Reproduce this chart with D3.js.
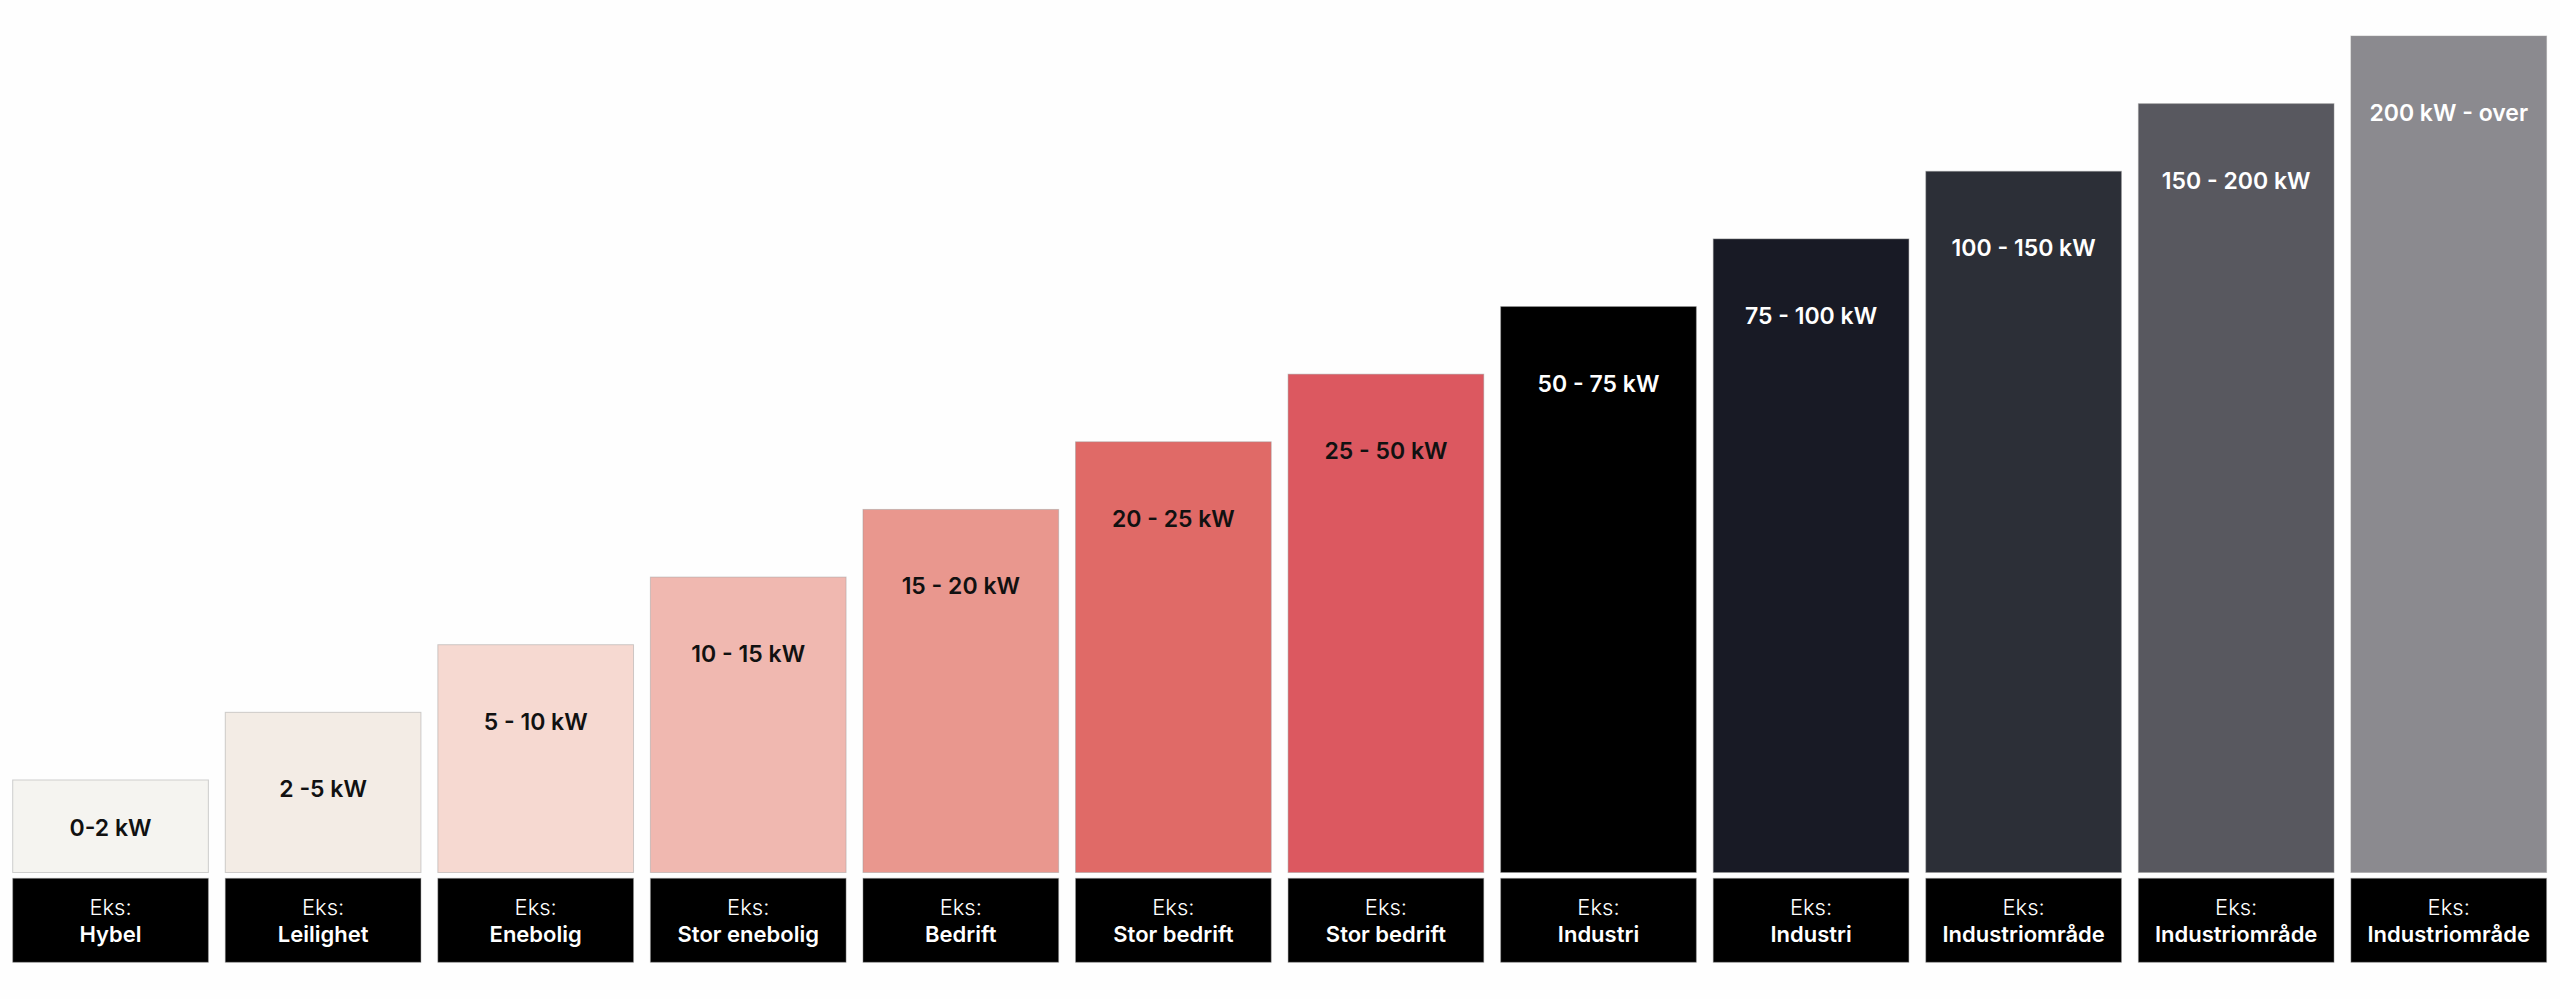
<!DOCTYPE html>
<html>
<head>
<meta charset="utf-8">
<script src="https://cdn.jsdelivr.net/npm/d3@7"></script>
<style>
    html, body { margin: 0; padding: 0; background: #fefefe; }
    svg { display: block; font-family: Inter, "Noto Sans", sans-serif; }
</style>
</head>
<body>
<div id="chart"></div>
<script>

// effect ranges (bar labels)
let ranges = ["0-2 kW", "2 -5 kW", "5 - 10 kW", "10 - 15 kW", "15 - 20 kW", "20 - 25 kW",
    "25 - 50 kW", "50 - 75 kW", "75 - 100 kW", "100 - 150 kW", "150 - 200 kW", "200 kW - over"];

// example use for each range
let examples = ["Hybel", "Leilighet", "Enebolig", "Stor enebolig", "Bedrift", "Stor bedrift",
    "Stor bedrift", "Industri", "Industri", "Industriområde", "Industriområde", "Industriområde"];

// step level of each bar (staircase)
let levels = [1, 2, 3, 4, 5, 6, 7, 8, 9, 10, 11, 12];

let colors = ["#f5f4f0", "#f3ece5", "#f6d9d1", "#f0b8b0", "#e9978e", "#e06a67",
    "#dc5860", "#000000", "#181a25", "#2c2f37", "#58585f", "#8b8a8f"];

let margin = {top: 0, right: 0, bottom: 0, left: 0};
let width = 2560, height = 999;

let svg = d3.select("#chart").append("svg")
    .attr("width", width)
    .attr("height", height)
    .append("g")
    .attr("transform", "translate(" + margin.left + "," + margin.top + ")");

let baseline = 872.5;

let x = d3.scaleBand()
    .domain(ranges)
    .range([12.7, 2546.6])
    .paddingInner(0.0794)
    .paddingOuter(0);

let y = d3.scaleLinear()
    .domain([0, 12])
    .range([847.6, 36]);

let data = ranges.map((r, i) => ({range: r, example: examples[i], level: levels[i], color: colors[i], dark: i >= 7}));

// bars
svg.selectAll(".bar")
    .data(data)
    .enter()
    .append("rect")
    .attr("class", "bar")
    .attr("x", d => x(d.range))
    .attr("y", d => y(d.level))
    .attr("width", x.bandwidth())
    .attr("height", d => baseline - y(d.level))
    .attr("fill", d => d.color)
    .attr("stroke", "#999")
    .attr("stroke-opacity", 0.45)
    .attr("stroke-width", 1);

// range labels inside bars
svg.selectAll(".rangeLabel")
    .data(data)
    .enter()
    .append("text")
    .attr("class", "rangeLabel")
    .attr("x", d => x(d.range) + x.bandwidth() / 2)
    .attr("y", d => Math.min(y(d.level) + 77, (y(d.level) + baseline) / 2 + 2))
    .attr("text-anchor", "middle")
    .attr("dominant-baseline", "central")
    .attr("font-size", 23)
    .attr("font-weight", 600)
    .attr("fill", d => d.dark ? "#ffffff" : "#111111")
    .text(d => d.range);

// example boxes under bars
let boxTop = 878.3, boxHeight = 84;

svg.selectAll(".exBox")
    .data(data)
    .enter()
    .append("rect")
    .attr("class", "exBox")
    .attr("x", d => x(d.range))
    .attr("y", boxTop)
    .attr("width", x.bandwidth())
    .attr("height", boxHeight)
    .attr("fill", "#000")
    .attr("stroke", "#999")
    .attr("stroke-opacity", 0.45);

svg.selectAll(".exHead")
    .data(data)
    .enter()
    .append("text")
    .attr("class", "exHead")
    .attr("x", d => x(d.range) + x.bandwidth() / 2)
    .attr("y", 906.7)
    .attr("text-anchor", "middle")
    .attr("dominant-baseline", "central")
    .attr("font-size", 22)
    .attr("font-weight", 300)
    .attr("fill", "#fff")
    .text("Eks:");

svg.selectAll(".exName")
    .data(data)
    .enter()
    .append("text")
    .attr("class", "exName")
    .attr("x", d => x(d.range) + x.bandwidth() / 2)
    .attr("y", 934)
    .attr("text-anchor", "middle")
    .attr("dominant-baseline", "central")
    .attr("font-size", 22)
    .attr("font-weight", 600)
    .attr("fill", "#fff")
    .text(d => d.example);

</script>
</body>
</html>
